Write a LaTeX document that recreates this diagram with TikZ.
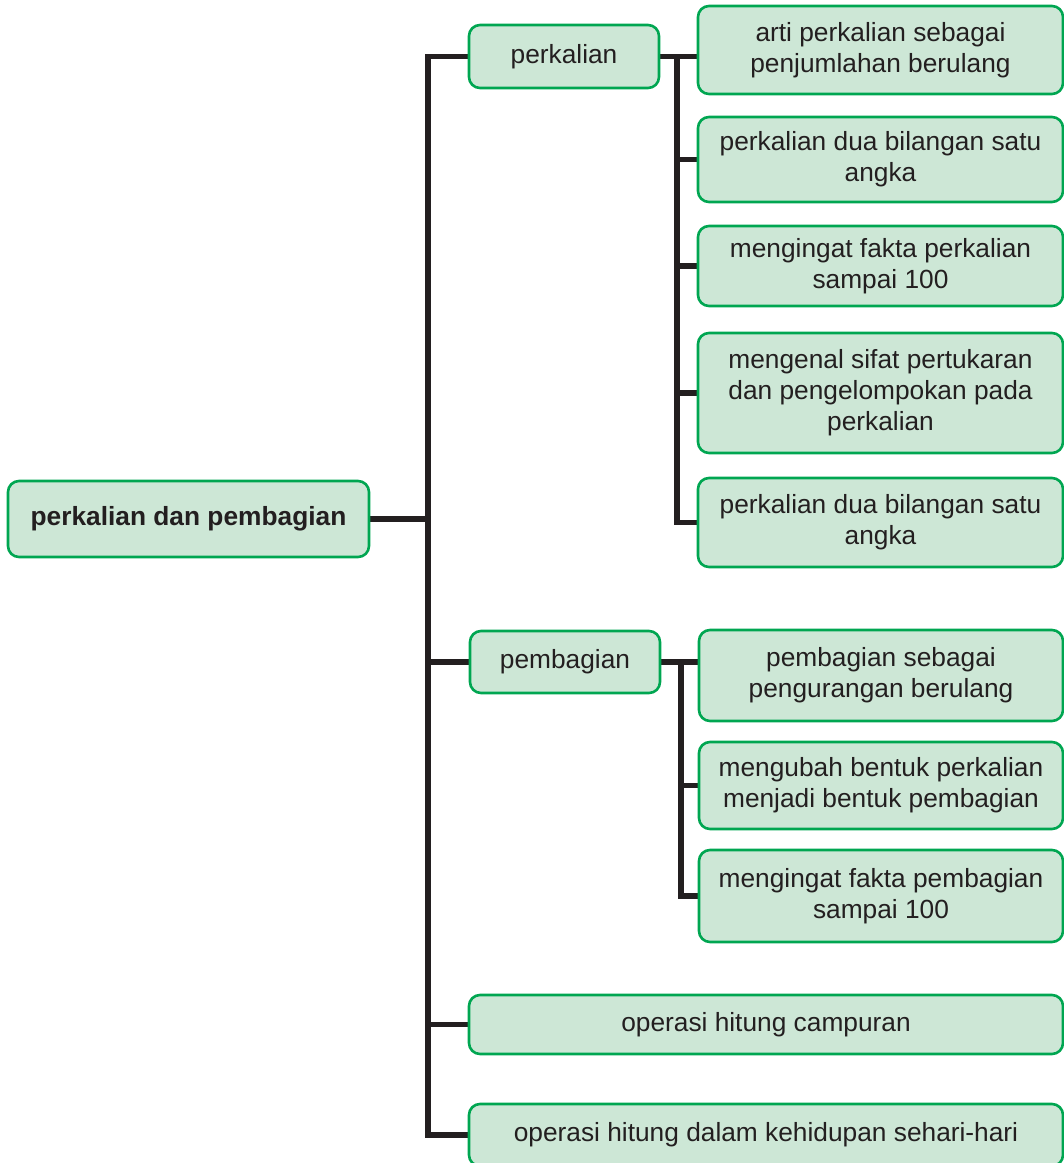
\documentclass[tikz,border=0pt]{standalone}
\usepackage{fontspec}
\setmainfont{Liberation Sans}
\usetikzlibrary{backgrounds}
\definecolor{boxgreen}{RGB}{0,166,81}
\definecolor{boxfill}{RGB}{205,231,214}
\definecolor{inkc}{RGB}{35,31,32}
\tikzset{
  tbox/.style={draw=boxgreen, fill=boxfill, line width=2.6pt, rounded corners=11pt,
    inner sep=0pt, align=center, text=inkc,
    font=\fontsize{26.3}{31}\selectfont},
  conn/.style={draw=inkc, line width=5.4pt, line cap=rect, line join=miter}
}
\begin{document}
\begin{tikzpicture}[x=1pt,y=-1pt]
\useasboundingbox (0,0) rectangle (1064,1163);
% root and first level
\node[tbox, minimum width=361pt, minimum height=76pt, font=\fontsize{26.3}{31}\selectfont\bfseries] (root) at (188.5,519) {perkalian dan pembagian};
\node[tbox, minimum width=190pt, minimum height=63pt] (perk) at (564,56.5) {perkalian};
\node[tbox, minimum width=190pt, minimum height=62pt] (pemb) at (565,662) {pembagian};
\node[tbox, minimum width=594pt, minimum height=59pt] (ohc) at (766,1024.5) {operasi hitung campuran};
\node[tbox, minimum width=594pt, minimum height=62pt] (ohd) at (766,1135) {operasi hitung dalam kehidupan sehari-hari};
% perkalian children
\node[tbox, minimum width=365pt, minimum height=88pt] (c1) at (880.5,50) {arti perkalian sebagai\\penjumlahan berulang};
\node[tbox, minimum width=365pt, minimum height=85pt] (c2) at (880.5,159.5) {perkalian dua bilangan satu\\angka};
\node[tbox, minimum width=365pt, minimum height=80pt] (c3) at (880.5,266) {mengingat fakta perkalian\\sampai 100};
\node[tbox, minimum width=365pt, minimum height=120pt] (c4) at (880.5,393) {mengenal sifat pertukaran\\dan pengelompokan pada\\perkalian};
\node[tbox, minimum width=365pt, minimum height=89pt] (c5) at (880.5,522.5) {perkalian dua bilangan satu\\angka};
% pembagian children
\node[tbox, minimum width=364pt, minimum height=91pt] (d1) at (881,675.5) {pembagian sebagai\\pengurangan berulang};
\node[tbox, minimum width=364pt, minimum height=87pt] (d2) at (881,785.5) {mengubah bentuk perkalian\\menjadi bentuk pembagian};
\node[tbox, minimum width=364pt, minimum height=92pt] (d3) at (881,896) {mengingat fakta pembagian\\sampai 100};
\begin{scope}[on background layer]
% trunk
\coordinate (tTop) at (428,56.5);
\coordinate (tBot) at (428,1135);
\draw[conn] (perk.west) -- (tTop) -- (tBot) -- (ohd.west);
\draw[conn] (root.east) -- (root.east -| tTop);
\draw[conn] (pemb.west) -- (pemb.west -| tTop);
\draw[conn] (ohc.west) -- (ohc.west -| tTop);
% perkalian branch
\coordinate (pTop) at (677,56.5);
\draw[conn] (perk.east) -- (perk.east -| c1.west);
\draw[conn] (pTop) -- (pTop |- c5.west) -- (c5.west);
\draw[conn] (c2.west) -- (c2.west -| pTop);
\draw[conn] (c3.west) -- (c3.west -| pTop);
\draw[conn] (c4.west) -- (c4.west -| pTop);
% pembagian branch
\coordinate (qTop) at (681,662);
\draw[conn] (pemb.east) -- (pemb.east -| d1.west);
\draw[conn] (qTop) -- (qTop |- d3.west) -- (d3.west);
\draw[conn] (d2.west) -- (d2.west -| qTop);
\end{scope}
\end{tikzpicture}
\end{document}
